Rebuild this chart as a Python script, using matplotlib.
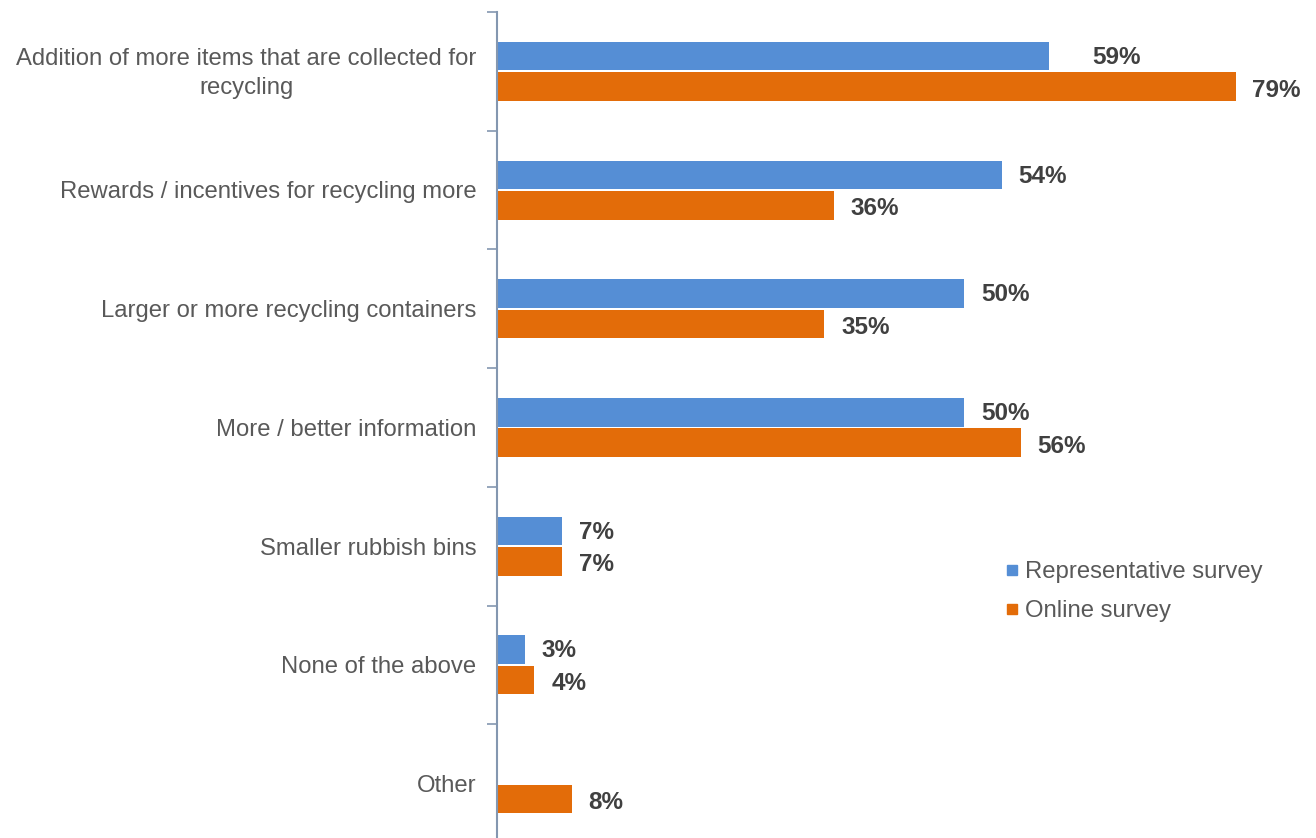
import numpy as np
import matplotlib.pyplot as plt

# survey answers, top to bottom
categories = ['Addition of more items that are collected for\nrecycling',
              'Rewards / incentives for recycling more',
              'Larger or more recycling containers',
              'More / better information',
              'Smaller rubbish bins',
              'None of the above',
              'Other']
representative = [59, 54, 50, 50, 7, 3, None]   # "Other" not asked
online = [79, 36, 35, 56, 7, 4, 8]

blue = '#558ED5'
orange = '#E36C09'
label_grey = '#595959'
value_grey = '#404040'

plt.rcParams['font.family'] = ['Liberation Sans', 'DejaVu Sans']

fig = plt.figure(figsize=(13.16, 8.38), dpi=100)
ax = fig.add_axes([497/1316, -5/838, 1 - 497/1316, 831/838])

y = np.arange(len(categories))
h = 0.24
gap = 0.008

for i in range(len(categories)):
    rv = representative[i]
    if rv is not None:
        ax.barh(y[i] - h/2 - gap, rv, height=h, color=blue)
        nudge = 2.9 if i == 0 else 0  # keep 59% clear of the bar below
        ax.text(rv + 1.8 + nudge, y[i] - h/2 - gap + 0.01, '{}%'.format(rv),
                va='center', ha='left', fontsize=17.5, fontweight='bold', color=value_grey)
    ov = online[i]
    ax.barh(y[i] + h/2 + gap, ov, height=h, color=orange)
    ax.text(ov + 1.8, y[i] + h/2 + gap + 0.03, '{}%'.format(ov),
            va='center', ha='left', fontsize=17.5, fontweight='bold', color=value_grey)

ax.set_xlim(0, 87.6)
ax.set_ylim(len(categories) - 0.5, -0.5)

# category labels sit between the ticks
ax.set_yticks(np.arange(len(categories) + 1) - 0.5)
ax.set_yticklabels([])
ax.tick_params(axis='y', length=7, color='#8497B0', width=1.2)
for i, c in enumerate(categories):
    ax.text(-2.2, y[i] + 0.02, c, ha='right', va='center', multialignment='center',
            fontsize=17.2, color=label_grey, linespacing=1.4)

ax.set_xticks([])
for s in ['top', 'right', 'bottom']:
    ax.spines[s].set_visible(False)
ax.spines['left'].set_color('#8497B0')
ax.spines['left'].set_linewidth(1.5)

# legend
handles = [plt.Line2D([], [], marker='s', color='none', markerfacecolor=blue,
                      markeredgecolor=blue, markersize=6.5),
           plt.Line2D([], [], marker='s', color='none', markerfacecolor=orange,
                      markeredgecolor=orange, markersize=6.5)]
leg = ax.legend(handles, ['Representative survey', 'Online survey'],
                loc='upper left', bbox_to_anchor=(0.594, 0.365), frameon=False,
                fontsize=17.2, handlelength=0.55, handletextpad=0.3, labelspacing=0.72)
for t in leg.get_texts():
    t.set_color(label_grey)

plt.savefig('out.png', dpi=100)
